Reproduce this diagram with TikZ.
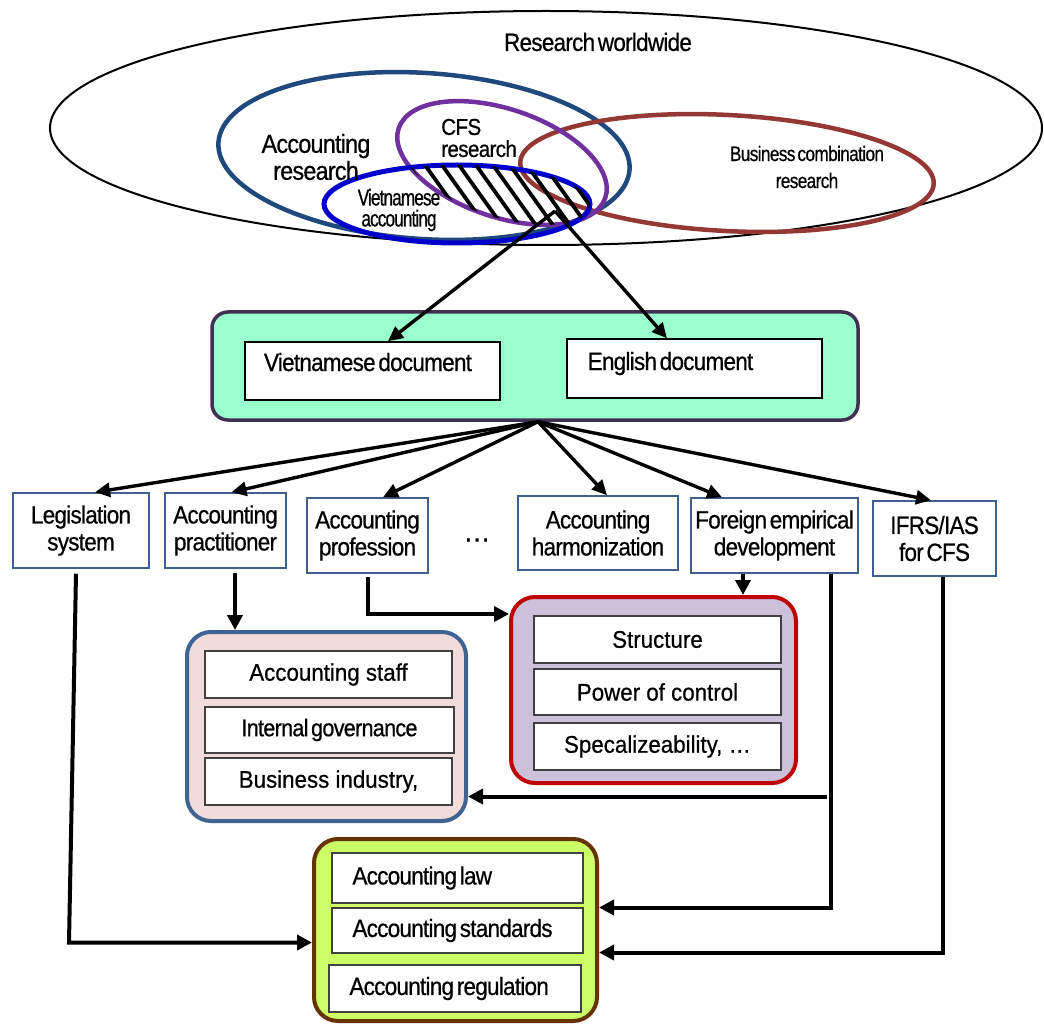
\documentclass[tikz,border=0pt]{standalone}
\usepackage{fontspec}
\setmainfont{Liberation Sans}[FakeStretch=0.9,LetterSpace=-3,WordSpace=0.5,FakeBold=0.6]
\newfontfamily\fnarrow{Liberation Sans}[FakeStretch=0.75,LetterSpace=-4,WordSpace=0.5,FakeBold=0.6]
\newfontfamily\fmid{Liberation Sans}[FakeStretch=0.82,LetterSpace=-3,WordSpace=0.5,FakeBold=0.6]
\newfontfamily\fwide{Liberation Sans}[FakeStretch=0.93,FakeBold=0.6]
\usetikzlibrary{arrows.meta}

\definecolor{acblue}{HTML}{1F497D}
\definecolor{cfspurple}{HTML}{7030A0}
\definecolor{vnblue}{HTML}{0000CC}
\definecolor{bcred}{HTML}{953735}
\definecolor{docfill}{HTML}{99FFCC}
\definecolor{docedge}{HTML}{403152}
\definecolor{rowedge}{HTML}{41618C}
\definecolor{pinkfill}{HTML}{F2DCDB}
\definecolor{pinkedge}{HTML}{3F6494}
\definecolor{lilacfill}{HTML}{CCC1DA}
\definecolor{lilacedge}{HTML}{C00000}
\definecolor{limefill}{HTML}{CCFF66}
\definecolor{limeedge}{HTML}{663300}
\definecolor{itemedge}{HTML}{404040}

\begin{document}
\begin{tikzpicture}[x=1pt,y=-1pt,
  conn/.style={line width=4pt,-{Triangle[length=15pt,width=15pt]}},
  fanarrow/.style={line width=3.4pt,-{Triangle[length=15pt,width=14pt]}},
  rowbox/.style={draw=rowedge,line width=1.5pt,fill=white,minimum height=75pt,
    inner sep=0pt,align=center,font=\fontsize{25}{27}\selectfont},
  docbox/.style={draw=black,line width=1.5pt,fill=white,inner sep=0pt,
    minimum width=255pt},
  item/.style={draw=itemedge,line width=1.5pt,fill=white,inner sep=0pt,
    minimum width=247pt,font=\fwide\fontsize{24}{26}\selectfont},
  lawitem/.style={draw=itemedge,line width=1.5pt,fill=white,inner sep=0pt,
    minimum width=251pt},
  lawtext/.style={anchor=west,inner sep=0pt,font=\fontsize{25}{27}\selectfont},
  group/.style={line width=4pt,rounded corners=24pt,inner sep=0pt},
  label/.style={inner sep=0pt,align=center}
]
\useasboundingbox (0,0) rectangle (1044,1024);
\fill[white] (0,0) rectangle (1044,1024);

% --- research fields ---
\draw[line width=2pt] (546,128) ellipse [x radius=496pt, y radius=117pt];
\draw[acblue,line width=4.5pt,rotate around={-3.8:(424,156)}]
  (424,156) ellipse [x radius=206pt, y radius=83pt];
\draw[bcred,line width=4.5pt,rotate around={-3:(727,173)}]
  (727,173) ellipse [x radius=207pt, y radius=58pt];
\draw[cfspurple,line width=4.5pt,rotate around={-18.6:(502,163)}]
  (502,163) ellipse [x radius=109pt, y radius=54pt];
\draw[vnblue,line width=5pt] (457,204) ellipse [x radius=133pt, y radius=39pt];

% hatched overlap of CFS research and Vietnamese accounting
\begin{scope}
  \clip[rotate around={-18.6:(502,163)}] (502,163) ellipse [x radius=109pt, y radius=54pt];
  \clip (457,204) ellipse [x radius=133pt, y radius=39pt];
  \foreach \k in {-2,...,9}
    \draw[line width=3.8pt] (442+17*\k-28.6,125) -- (442+17*\k+57.1,245);
\end{scope}
\coordinate (hatch) at (555,211);

\node[label,font=\fontsize{25}{27}\selectfont] (rw) at (598,42) {Research worldwide};
\node[label,font=\fontsize{26}{27}\selectfont] (ar) at (316,157) {Accounting\\research};
\node[label,align=left,anchor=west,font=\fontsize{23}{22}\selectfont] (cfs) at (441,138) {CFS\\research};
\node[label,font=\fnarrow\fontsize{23}{21}\selectfont] (va) at (399,210) {Vietnamese\\accounting};
\node[label,font=\fmid\fontsize{21}{27}\selectfont] (bc) at (807,167) {Business combination\\research};

% --- documents ---
\node[draw=docedge,fill=docfill,line width=3.5pt,rounded corners=16pt,
  minimum width=646pt,minimum height=108pt] (docs) at (535,366) {};
\node[docbox,minimum height=58pt] (vdoc) at (372.5,371) {};
\node[docbox,minimum height=59pt] (edoc) at (694.5,368.5) {};
\node[anchor=base,inner sep=0pt,font=\fontsize{25}{27}\selectfont] (vdoctext) at (368,371) {Vietnamese document};
\node[anchor=base,inner sep=0pt,font=\fontsize{25}{27}\selectfont] (edoctext) at (670.5,370) {English document};

\draw[fanarrow] (hatch) -- ([xshift=15.5]vdoc.north);
\draw[fanarrow] (hatch) -- ([xshift=-27.5]edoc.north);

% --- influencing factors ---
\node[rowbox,minimum width=136pt] (legis) at (81,530.5) {Legislation\\system};
\node[rowbox,minimum width=121pt] (pract) at (225.5,530.5) {Accounting\\practitioner};
\node[rowbox,minimum width=121pt] (prof) at (367.5,535.5) {Accounting\\profession};
\node[label,font=\fontsize{30}{30}\selectfont] (dots) at (477,540) {…};
\node[rowbox,minimum width=160pt,minimum height=74pt] (harm) at (598,533) {Accounting\\harmonization};
\node[rowbox,minimum width=167pt] (foreign) at (774.5,535.5) {Foreign empirical\\development};
\node[rowbox,minimum width=123pt] (ifrs) at (934.5,538.5) {IFRS/IAS\\for CFS};

\coordinate (fan) at ([xshift=3]docs.south);
\foreach \t/\dx in {legis/14,pract/6,prof/15.5,harm/9,foreign/-52.5,ifrs/-3.5}
  \draw[fanarrow] (fan) -- ([xshift=\dx]\t.north);

% --- entity characteristics ---
\node[group,draw=pinkedge,fill=pinkfill,minimum width=279pt,minimum height=189pt] (pink) at (326.5,726.5) {};
\node[item,minimum height=47pt] (staff) at (328.5,674.5) {Accounting staff};
\node[item,minimum width=249pt,minimum height=46pt,font=\fontsize{24}{26}\selectfont] (gov) at (329.5,730) {Internal governance};
\node[item,minimum height=47pt] (bus) at (328.5,781.5) {Business industry,};

% --- group characteristics ---
\node[group,draw=lilacedge,fill=lilacfill,minimum width=285pt,minimum height=186pt] (lilac) at (653.5,690) {};
\node[item,minimum height=47pt] (struct) at (657.5,639.5) {Structure};
\node[item,minimum height=46pt] (power) at (657.5,692) {Power of control};
\node[item,minimum height=47pt] (spec) at (657.5,746.5) {Specalizeability, …};

% --- regulatory framework ---
\node[group,draw=limeedge,fill=limefill,minimum width=283pt,minimum height=182pt] (lime) at (455.5,930) {};
\node[lawitem,minimum height=50pt] (law) at (457.5,878) {};
\node[lawitem,minimum height=45pt] (std) at (457.5,930.5) {};
\node[lawitem,minimum height=47pt,minimum width=252pt] (reg) at (455,988.5) {};
\node[lawtext] (lawtxt) at ([xshift=21]law.west) {Accounting law};
\node[lawtext] (stdtxt) at ([xshift=21]std.west) {Accounting standards};
\node[lawtext] (regtxt) at ([xshift=21]reg.west) {Accounting regulation};

% --- connectors between layers ---
\coordinate (p1) at ([xshift=9.5,yshift=-4]pract.south);
\draw[conn] (p1) -- (p1 |- pink.north);

\coordinate (pq) at ([yshift=76]lilac.west);
\draw[conn] ([yshift=-3]prof.south) |- (pq);

\coordinate (f1) at ([xshift=-31.5]foreign.south);
\draw[conn] (f1) -- (f1 |- lilac.north);

\coordinate (f2) at ([xshift=56.5]foreign.south);
\coordinate (g1) at ([yshift=22.5]lime.east);
\draw[conn] (f2) |- (g1);
\coordinate (pk) at ([yshift=-70]pink.east);
\draw[conn] ([xshift=-4]f2 |- pk) -- (pk);

\coordinate (i1) at ([xshift=8.5]ifrs.south);
\coordinate (g2) at ([yshift=-22.5]lime.east);
\draw[conn] (i1) |- (g2);

\coordinate (l1) at ([xshift=-5,yshift=-5]legis.south);
\coordinate (g3) at ([yshift=-12.5]lime.west);
\draw[conn] (l1) -- ([xshift=-243]g3) -- (g3);
\end{tikzpicture}
\end{document}
